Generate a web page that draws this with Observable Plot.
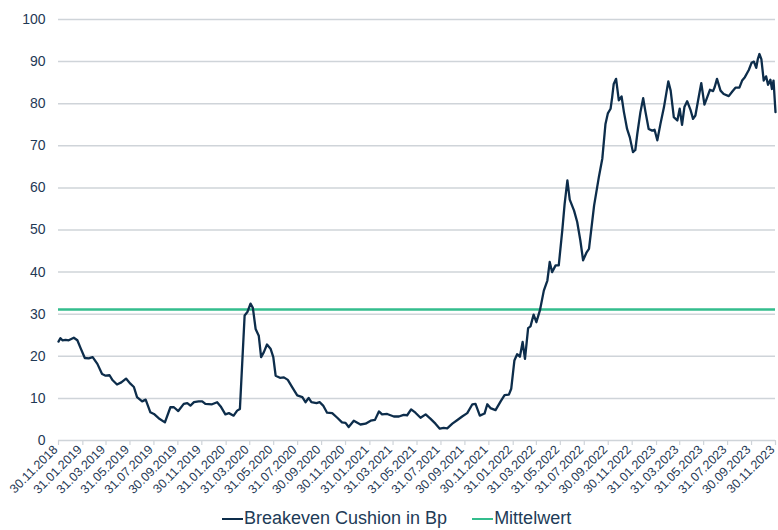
<!DOCTYPE html>
<html>
<head>
<meta charset="utf-8">
<script src="https://cdn.jsdelivr.net/npm/d3@7"></script>
<script src="https://cdn.jsdelivr.net/npm/@observablehq/plot@0.6"></script>
<style>
  html, body { margin: 0; padding: 0; background: #ffffff; }
  #wrap { position: relative; width: 778px; height: 530px; font-family: "Liberation Sans", Arial, sans-serif; }
  #legend { position: absolute; left: 222px; top: 508px; display: flex; align-items: center; font-size: 18px; color: #213b57; white-space: nowrap; }
  .item { display: flex; align-items: center; }
  .sw { display: inline-block; width: 21px; height: 0; border-top: 2.5px solid; margin-right: 1px; }
</style>
</head>
<body>
<div id="wrap">
  <div id="chart"></div>
  <div id="legend"></div>
</div>
<script>
const seriesName = "Breakeven Cushion in Bp";
const meanName = "Mittelwert";
const meanValue = 31.1;
const yTicks = [0, 10, 20, 30, 40, 50, 60, 70, 80, 90, 100];
const tickLabels = [
  "30.11.2018","31.01.2019","31.03.2019","31.05.2019","31.07.2019","30.09.2019",
  "30.11.2019","31.01.2020","31.03.2020","31.05.2020","31.07.2020","30.09.2020",
  "30.11.2020","31.01.2021","31.03.2021","31.05.2021","31.07.2021","30.09.2021",
  "30.11.2021","31.01.2022","31.03.2022","31.05.2022","31.07.2022","30.09.2022",
  "30.11.2022","31.01.2023","31.03.2023","31.05.2023","31.07.2023","30.09.2023",
  "30.11.2023"
];
const dates = [
  "2018-11-30","2018-12-05","2018-12-10","2018-12-18","2018-12-26","2019-01-08","2019-01-17","2019-01-25",
  "2019-02-05","2019-02-15","2019-02-25","2019-03-09","2019-03-21","2019-03-30","2019-04-09","2019-04-17",
  "2019-04-28","2019-05-09","2019-05-21","2019-06-01","2019-06-10","2019-06-18","2019-07-01","2019-07-10",
  "2019-07-22","2019-07-31","2019-08-12","2019-08-28","2019-09-11","2019-09-20","2019-10-01","2019-10-15",
  "2019-10-24","2019-11-01","2019-11-10","2019-11-22","2019-12-01","2019-12-09","2019-12-26","2020-01-08",
  "2020-01-17","2020-01-29","2020-02-07","2020-02-19","2020-02-28","2020-03-06","2020-03-18","2020-03-25",
  "2020-04-02","2020-04-08","2020-04-15","2020-04-23","2020-04-29","2020-05-06","2020-05-14","2020-05-23",
  "2020-05-30","2020-06-05","2020-06-16","2020-06-26","2020-07-06","2020-07-17","2020-07-30","2020-08-12",
  "2020-08-20","2020-08-28","2020-09-04","2020-09-17","2020-09-25","2020-10-04","2020-10-14","2020-10-27",
  "2020-11-09","2020-11-21","2020-11-30","2020-12-08","2020-12-21","2021-01-07","2021-01-20","2021-02-02",
  "2021-02-13","2021-02-23","2021-03-03","2021-03-16","2021-04-02","2021-04-15","2021-04-27","2021-05-06",
  "2021-05-16","2021-05-27","2021-06-09","2021-06-22","2021-07-04","2021-07-17","2021-07-28","2021-08-07",
  "2021-08-16","2021-08-29","2021-09-10","2021-09-23","2021-10-06","2021-10-19","2021-10-27","2021-11-07",
  "2021-11-19","2021-11-26","2021-12-04","2021-12-17","2021-12-30","2022-01-09","2022-01-20","2022-01-26",
  "2022-02-03","2022-02-10","2022-02-17","2022-02-24","2022-03-02","2022-03-10","2022-03-16","2022-03-24",
  "2022-03-31","2022-04-09","2022-04-19","2022-04-28","2022-05-04","2022-05-10","2022-05-19","2022-05-27",
  "2022-06-05","2022-06-11","2022-06-18","2022-06-24","2022-07-05","2022-07-13","2022-07-21","2022-07-28",
  "2022-08-06","2022-08-12","2022-08-25","2022-09-06","2022-09-15","2022-09-23","2022-09-29","2022-10-06",
  "2022-10-10","2022-10-14","2022-10-20","2022-10-27","2022-11-03","2022-11-09","2022-11-17","2022-11-24",
  "2022-12-02","2022-12-08","2022-12-13","2022-12-21","2022-12-28","2023-01-03","2023-01-11","2023-01-20",
  "2023-01-26","2023-02-02","2023-02-10","2023-02-19","2023-03-02","2023-03-08","2023-03-16","2023-03-25",
  "2023-03-31","2023-04-06","2023-04-12","2023-04-19","2023-04-28","2023-05-04","2023-05-10","2023-05-19",
  "2023-05-25","2023-06-02","2023-06-09","2023-06-16","2023-06-24","2023-06-28","2023-07-04","2023-07-13",
  "2023-07-21","2023-08-03","2023-08-12","2023-08-20","2023-08-30","2023-09-06","2023-09-13","2023-09-23",
  "2023-09-30","2023-10-06","2023-10-12","2023-10-16","2023-10-20","2023-10-25","2023-10-31","2023-11-06",
  "2023-11-11","2023-11-17","2023-11-21","2023-11-25","2023-11-30"
];
const values = [
  23.5,24.3,23.8,23.9,23.8,24.4,23.8,22.0,
  19.6,19.5,19.8,18.2,15.8,15.4,15.5,14.3,
  13.3,13.8,14.7,13.5,12.7,10.3,9.3,9.7,
  6.7,6.3,5.3,4.3,7.9,7.9,7.0,8.7,
  8.9,8.3,9.1,9.3,9.3,8.7,8.6,9.1,
  8.1,6.2,6.5,5.9,7.1,7.5,29.7,30.5,
  32.5,31.5,26.5,24.9,19.8,21.0,22.8,21.8,
  19.8,15.4,14.9,15.0,14.4,12.7,10.7,10.3,
  9.1,10.1,9.1,8.9,9.1,8.3,6.6,6.5,
  5.4,4.3,4.2,3.2,4.7,3.8,4.0,4.7,
  4.9,6.9,6.2,6.3,5.7,5.7,6.1,6.0,
  7.4,6.6,5.4,6.2,5.2,4.0,2.8,3.0,
  2.9,4.0,4.8,5.7,6.5,8.6,8.7,5.9,
  6.4,8.6,7.7,7.2,9.3,10.8,10.9,12.3,
  19.0,20.5,19.9,23.4,19.4,26.7,27.1,29.9,
  28.1,30.9,35.6,38.0,42.4,40.0,41.6,41.6,
  49.9,56.2,61.8,57.2,54.6,51.9,47.5,42.8,
  44.7,45.5,55.8,62.5,67.0,75.2,77.7,78.8,
  81.5,84.7,85.9,80.8,81.7,78.0,74.0,72.0,
  68.5,69.0,72.8,78.0,81.3,78.0,74.0,73.6,
  73.8,71.3,75.2,79.2,85.3,83.1,76.8,76.0,
  78.8,75.0,79.2,80.6,78.4,76.4,77.2,81.9,
  84.9,79.8,81.5,83.3,83.0,83.9,85.9,83.1,
  82.3,81.8,82.9,83.8,83.8,85.5,86.3,88.0,
  89.7,90.0,88.5,90.6,91.8,90.6,85.5,86.5,
  84.5,85.7,83.5,85.5,78.0
];

const lineColor = "#0d2d4b";
const meanColor = "#33bd8d";
const textColor = "#1f3955";
const gridColor = "#cfd4d9";

const parseISO = d3.utcParse("%Y-%m-%d");
const parseDE = d3.utcParse("%d.%m.%Y");
const data = dates.map((d, i) => ({date: parseISO(d), value: values[i]}));
const tickDates = tickLabels.map(parseDE);

const chart = Plot.plot({
  width: 778,
  height: 500,
  marginLeft: 58,
  marginRight: 3,
  marginTop: 19,
  marginBottom: 60,
  style: {fontFamily: "'Liberation Sans', Arial, sans-serif", color: textColor, background: "#ffffff"},
  x: {type: "utc", domain: [tickDates[0], tickDates[tickDates.length - 1]]},
  y: {domain: [0, 100]},
  marks: [
    Plot.gridY(yTicks, {stroke: gridColor, strokeOpacity: 1, strokeWidth: 1.5}),
    Plot.axisY(yTicks, {tickSize: 0, tickPadding: 13, fontSize: 14, label: null, fill: textColor}),
    Plot.axisX(tickDates, {
      tickSize: 5,
      stroke: gridColor,
      strokeWidth: 1.2,
      tickFormat: null,
      text: null,
      label: null
    }),
    Plot.axisX(tickDates, {
      tickFormat: d3.utcFormat("%d.%m.%Y"),
      tickRotate: -45,
      tickSize: 0,
      tickPadding: 7,
      dx: -3,
      fill: textColor,
      fontSize: 12.5,
      label: null
    }),
    Plot.ruleY([meanValue], {stroke: meanColor, strokeWidth: 2.5}),
    Plot.lineY(data, {x: "date", y: "value", stroke: lineColor, strokeWidth: 2.3, strokeLinejoin: "round"})
  ]
});
document.getElementById("chart").appendChild(chart);

const legend = document.getElementById("legend");
[[seriesName, lineColor], [meanName, meanColor]].forEach(([name, color], i) => {
  const item = document.createElement("div");
  item.className = "item";
  if (i > 0) item.style.marginLeft = "25px";
  const sw = document.createElement("span");
  sw.className = "sw";
  sw.style.borderTopColor = color;
  const t = document.createElement("span");
  t.textContent = name;
  item.appendChild(sw);
  item.appendChild(t);
  legend.appendChild(item);
});
</script>
</body>
</html>
